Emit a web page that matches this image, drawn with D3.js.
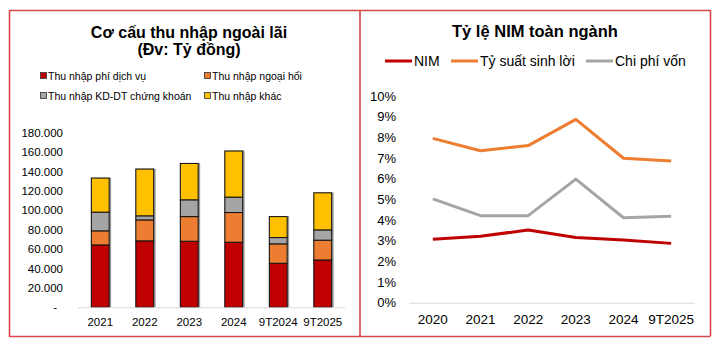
<!DOCTYPE html>
<html>
<head>
<meta charset="utf-8">
<script src="https://cdn.jsdelivr.net/npm/d3@7"></script>
<style>
  body { margin: 0; background: #fff; }
  svg { display: block; font-family: "Liberation Sans", Arial, sans-serif; }
</style>
</head>
<body>
<svg id="chart" width="720" height="346"></svg>
<script>
// Non-interest income by component (billion VND)
const years = ["2021", "2022", "2023", "2024", "9T2024", "9T2025"];
const phiDichVu = [64300, 68500, 68100, 67100, 45400, 48800];
const ngoaiHoi = [14500, 21600, 25400, 30600, 20000, 20400];
const kdChungKhoan = [19300, 4200, 17300, 15900, 6500, 10600];
const khac = [35100, 48200, 37500, 47500, 21600, 38200];
const incomeSeries = ["Thu nhập phí dịch vụ", "Thu nhập ngoại hối", "Thu nhập KD-DT chứng khoán", "Thu nhập khác"];
const incomeTicks = [0, 20000, 40000, 60000, 80000, 100000, 120000, 140000, 160000, 180000];

// Sector-wide NIM, asset yield and cost of funds (%)
const nimYears = ["2020", "2021", "2022", "2023", "2024", "9T2025"];
const nim = [3.07, 3.21, 3.52, 3.15, 3.03, 2.87];
const tySuatSinhLoi = [7.95, 7.35, 7.6, 8.87, 6.99, 6.86];
const chiPhiVon = [5.02, 4.21, 4.21, 5.98, 4.11, 4.18];
const nimSeries = ["NIM", "Tỷ suất sinh lời", "Chi phí vốn"];
const nimTicks = [0, 1, 2, 3, 4, 5, 6, 7, 8, 9, 10];

const barColors = ["#C00000", "#ED7D31", "#A5A5A5", "#FFC000"];
const lineColors = ["#C00000", "#ED7D31", "#A5A5A5"];

const svg = d3.select("#chart");

/**
 * Frame around both panels.
 */
svg.append("path")
  .attr("d", "M9.5,337 V10.5 H710.5 V336 M360,10.5 V337 M9.5,336.5 H710.5")
  .attr("fill", "none")
  .attr("stroke", "#D9474B")
  .attr("stroke-width", 1.6);

/**
 * Left panel: stacked bars.
 */
const left = svg.append("g");

left.append("text")
  .attr("x", 189).attr("y", 38)
  .attr("text-anchor", "middle")
  .style("font-weight", "bold").style("font-size", "16px")
  .text("Cơ cấu thu nhập ngoài lãi");
left.append("text")
  .attr("x", 189).attr("y", 55)
  .attr("text-anchor", "middle")
  .style("font-weight", "bold").style("font-size", "16px")
  .text("(Đv: Tỷ đồng)");

// Legend in two columns.
const barLegend = left.selectAll("g.legend")
  .data(incomeSeries)
  .join("g")
  .attr("transform", (_, i) => `translate(${i % 2 ? 204 : 40},${i < 2 ? 76 : 96})`);
barLegend.append("rect")
  .attr("x", 0.5).attr("y", -3.5)
  .attr("width", 6).attr("height", 6)
  .attr("fill", (_, i) => barColors[i])
  .attr("stroke", "#333").attr("stroke-width", 0.8);
barLegend.append("text")
  .attr("x", 8).attr("y", 4)
  .style("font-size", "10.5px")
  .text((d) => d);

const x = d3.scaleBand().domain(years).range([78, 345]).paddingInner(0.6).paddingOuter(0.3);
const y = d3.scaleLinear().domain([0, 180000]).range([307.3, 132.7]);

const stackRows = years.map((yr, i) => ({
  year: yr, a: phiDichVu[i], b: ngoaiHoi[i], c: kdChungKhoan[i], d: khac[i],
}));
const stacked = d3.stack().keys(["a", "b", "c", "d"])(stackRows);

// Y axis labels ("-" for zero, dot as thousands separator)
const fmt = d3.formatLocale({ decimal: ",", thousands: ".", grouping: [3], currency: ["", ""] }).format(",.0f");
left.selectAll("text.ytick")
  .data(incomeTicks)
  .join("text")
  .attr("class", "ytick")
  .attr("x", (d) => (d === 0 ? 57 : 63))
  .attr("y", (d) => y(d) + 4)
  .attr("text-anchor", "end")
  .style("font-size", "11.5px")
  .text((d) => (d === 0 ? "-" : fmt(d)));

// Soft shadow behind each column
left.selectAll("rect.shadow")
  .data(stackRows)
  .join("rect")
  .attr("class", "shadow")
  .attr("x", (d) => x(d.year) - 0.5)
  .attr("y", (d) => y(d.a + d.b + d.c + d.d) - 0.5)
  .attr("width", x.bandwidth() + 2.5)
  .attr("height", (d) => y(0) - y(d.a + d.b + d.c + d.d) + 0.5)
  .attr("fill", "#9a9a9a");

left.selectAll("g.layer")
  .data(stacked)
  .join("g")
  .attr("class", "layer")
  .attr("fill", (_, i) => barColors[i])
  .selectAll("rect")
  .data((d) => d)
  .join("rect")
  .attr("x", (d) => x(d.data.year))
  .attr("y", (d) => y(d[1]))
  .attr("width", x.bandwidth())
  .attr("height", (d) => y(d[0]) - y(d[1]))
  .attr("stroke", "#111")
  .attr("stroke-width", 1);

left.append("line")
  .attr("x1", 78).attr("x2", 345)
  .attr("y1", y(0) + 0.5).attr("y2", y(0) + 0.5)
  .attr("stroke", "#D9D9D9");

left.selectAll("text.xtick")
  .data(years)
  .join("text")
  .attr("class", "xtick")
  .attr("x", (d) => x(d) + x.bandwidth() / 2)
  .attr("y", 326)
  .attr("text-anchor", "middle")
  .style("font-size", "11.5px")
  .text((d) => d);

/**
 * Right panel: NIM lines.
 */
const right = svg.append("g");

right.append("text")
  .attr("x", 535).attr("y", 37)
  .attr("text-anchor", "middle")
  .style("font-weight", "bold").style("font-size", "16.5px")
  .text("Tỷ lệ NIM toàn ngành");

const lineLegendX = [385, 451, 586];
const lineLegend = right.selectAll("g.legend")
  .data(nimSeries)
  .join("g")
  .attr("transform", (_, i) => `translate(${lineLegendX[i]},61)`);
lineLegend.append("line")
  .attr("x1", 0).attr("x2", 27)
  .attr("stroke", (_, i) => lineColors[i])
  .attr("stroke-width", 3);
lineLegend.append("text")
  .attr("x", 29).attr("y", 5)
  .style("font-size", "14px")
  .text((d) => d);

const xp = d3.scalePoint().domain(nimYears).range([409, 695]).padding(0.5);
const yp = d3.scaleLinear().domain([0, 10]).range([302.7, 96]);

right.selectAll("text.ytick")
  .data(nimTicks)
  .join("text")
  .attr("class", "ytick")
  .attr("x", 396)
  .attr("y", (d) => yp(d) + 4.5)
  .attr("text-anchor", "end")
  .style("font-size", "13px")
  .text((d) => `${d}%`);

right.append("line")
  .attr("x1", 409).attr("x2", 695)
  .attr("y1", yp(0) + 0.5).attr("y2", yp(0) + 0.5)
  .attr("stroke", "#D9D9D9");

right.selectAll("text.xtick")
  .data(nimYears)
  .join("text")
  .attr("class", "xtick")
  .attr("x", (d) => xp(d))
  .attr("y", 324)
  .attr("text-anchor", "middle")
  .style("font-size", "13.5px")
  .text((d) => d);

const line = d3.line()
  .x((_, i) => xp(nimYears[i]))
  .y((d) => yp(d));

right.selectAll("path.series")
  .data([nim, tySuatSinhLoi, chiPhiVon])
  .join("path")
  .attr("class", "series")
  .attr("d", line)
  .attr("fill", "none")
  .attr("stroke", (_, i) => lineColors[i])
  .attr("stroke-width", 3)
  .attr("stroke-linejoin", "round");
</script>
</body>
</html>
